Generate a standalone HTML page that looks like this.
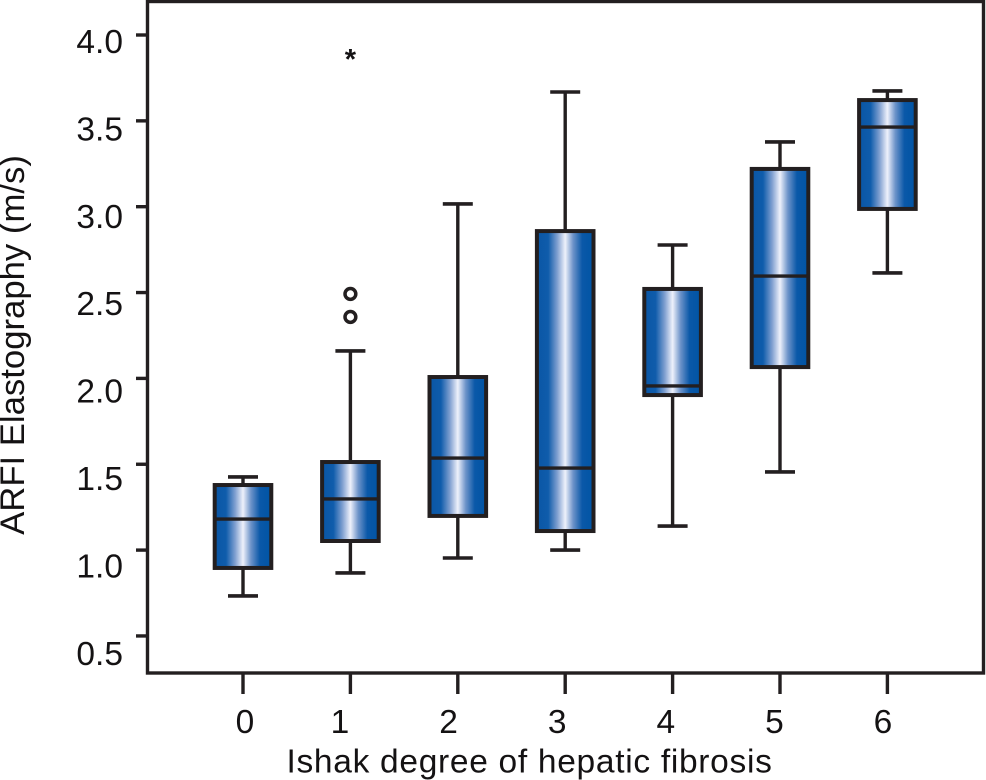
<!DOCTYPE html>
<html>
<head>
<meta charset="utf-8">
<style>
html,body{margin:0;padding:0;background:#fff}
svg{display:block}
text{font-family:"Liberation Sans",Arial,sans-serif;fill:#141213}
</style>
</head>
<body>
<svg id="chart" xmlns="http://www.w3.org/2000/svg" width="986" height="780" viewBox="0 0 986 780">
<defs>
<linearGradient id="boxFill" x1="0" x2="1" y1="0" y2="0">
<stop offset="0" stop-color="#0a56a5"/>
<stop offset="0.2" stop-color="#0f5cab"/>
<stop offset="0.36" stop-color="#7f9fd0"/>
<stop offset="0.5" stop-color="#eef1fb"/>
<stop offset="0.64" stop-color="#6d93c9"/>
<stop offset="0.8" stop-color="#0a58a8"/>
<stop offset="1" stop-color="#0054a4"/>
</linearGradient>
</defs>
<rect x="147.5" y="1.5" width="836" height="671.5" fill="none" stroke="#231f20" stroke-width="3.4"/>
<g id="yaxis"></g>
<g id="xaxis"></g>
<g id="boxes"></g>
<text transform="translate(24,345) rotate(-90)" text-anchor="middle" font-size="34.7">ARFI Elastography (m/s)</text>
<text x="529.5" y="772.5" text-anchor="middle" font-size="33.5" letter-spacing="0.7">Ishak degree of hepatic fibrosis</text>
</svg>
<script>
const categories = ["0", "1", "2", "3", "4", "5", "6"];
const yTickLabels = ["0.5", "1.0", "1.5", "2.0", "2.5", "3.0", "3.5", "4.0"];
const yTickValues = [0.5, 1.0, 1.5, 2.0, 2.5, 3.0, 3.5, 4.0];
const whiskerLow = [0.733, 0.867, 0.954, 1.0, 1.14, 1.455, 2.614];
const quartile1 = [0.896, 1.053, 1.199, 1.111, 1.903, 2.066, 2.987];
const medians = [1.181, 1.298, 1.536, 1.478, 1.956, 2.596, 3.464];
const quartile3 = [1.379, 1.513, 2.008, 2.858, 2.521, 3.22, 3.621];
const whiskerHigh = [1.426, 2.16, 3.016, 3.668, 2.777, 3.377, 3.674];
const outlierCategories = [1, 1];
const outlierValues = [2.358, 2.492];
const extremeCategories = [1];
const extremeValues = [3.884];

const NS = "http://www.w3.org/2000/svg";
const INK = "#231f20";
function yScale(v) { return 35 + (4 - v) * 171.7; }
function xScale(i) { return 243 + 107.4 * i; }
function yLabelBaseline(v) { return 53 + (4 - v) * 174.8; }
function xLabelCenter(i) { return i === 0 ? 245 : 340 + 108.6 * (i - 1); }
function make(tag, parent, attrs) {
  const el = document.createElementNS(NS, tag);
  for (const k in attrs) el.setAttribute(k, attrs[k]);
  parent.appendChild(el);
  return el;
}
const yG = document.getElementById("yaxis");
yTickValues.forEach(function (v, i) {
  const y = yScale(v);
  const t = make("line", yG, {x1: 136, x2: 148, y1: y, y2: y, stroke: INK, "stroke-width": 3.4});
  
  
  const l = make("text", yG, {x: 123, y: yLabelBaseline(v), "text-anchor": "end", "font-size": 33.5});
  l.textContent = yTickLabels[i];
  
  
});
const xG = document.getElementById("xaxis");
categories.forEach(function (c, i) {
  const x = xScale(i);
  const t = make("line", xG, {x1: x, x2: x, y1: 673, y2: 694, stroke: INK, "stroke-width": 3.4});
  
  
  const l = make("text", xG, {x: xLabelCenter(i), y: 733, "text-anchor": "middle", "font-size": 33.5});
  l.textContent = c;
  
  
});
const bG = document.getElementById("boxes");
categories.forEach(function (c, i) {
  const x = xScale(i);
  const g = make("g", bG, {});
  
  
  const hw = 28.3, cap = 15;
  const wl = yScale(whiskerLow[i]), wh = yScale(whiskerHigh[i]);
  const q1 = yScale(quartile1[i]), q3 = yScale(quartile3[i]), m = yScale(medians[i]);
  const whiskUp = make("line", g, {x1: x, x2: x, y1: wh, y2: q3, stroke: INK, "stroke-width": 3.4});
  
  
  const whiskDown = make("line", g, {x1: x, x2: x, y1: q1, y2: wl, stroke: INK, "stroke-width": 3.4});
  
  
  const capUp = make("line", g, {x1: x - cap, x2: x + cap, y1: wh, y2: wh, stroke: INK, "stroke-width": 3.6});
  
  
  const capDown = make("line", g, {x1: x - cap, x2: x + cap, y1: wl, y2: wl, stroke: INK, "stroke-width": 3.6});
  
  
  const box = make("rect", g, {x: x - hw, y: q3, width: hw * 2, height: q1 - q3, fill: "url(#boxFill)", stroke: INK, "stroke-width": 4});
  
  
  const med = make("line", g, {x1: x - hw, x2: x + hw, y1: m, y2: m, stroke: INK, "stroke-width": 3.4});
  
  
});
outlierValues.forEach(function (v, i) {
  const o = make("circle", bG, {cx: xScale(outlierCategories[i]), cy: yScale(v), r: 5.4, fill: "none", stroke: INK, "stroke-width": 3.5});
  
  
});
extremeValues.forEach(function (v, i) {
  const s = make("text", bG, {x: xScale(extremeCategories[i]), y: yScale(v) + 14, "text-anchor": "middle", "font-size": 29, "font-weight": "bold"});
  s.textContent = "*";
  
  
});
</script>
</body>
</html>
